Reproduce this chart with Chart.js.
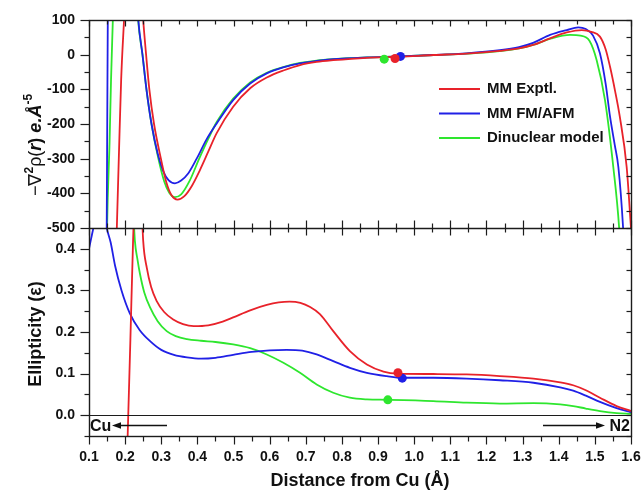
<!DOCTYPE html>
<html>
<head>
<meta charset="utf-8">
<script src="https://cdn.jsdelivr.net/npm/chart.js@4.4.1/dist/chart.umd.min.js"></script>
<style>
  html, body { margin: 0; padding: 0; background: #fff; }
  #wrap { width: 641px; height: 496px; position: relative; }
</style>
</head>
<body>
<div id="wrap"><canvas id="chart"></canvas></div>
<script>
// Series names and colours
const SERIES = ['MM Exptl.', 'MM FM/AFM', 'Dinuclear model'];
const COLORS = ['#e8222a', '#2020e6', '#2ee62e'];

// Tick labels
const X_TICKS = [0.1, 0.2, 0.3, 0.4, 0.5, 0.6, 0.7, 0.8, 0.9, 1.0, 1.1, 1.2, 1.3, 1.4, 1.5, 1.6];
const LAP_TICKS = [100, 0, -100, -200, -300, -400, -500];
const ELL_TICKS = [0.0, 0.1, 0.2, 0.3, 0.4];

// Laplacian profiles, -∇²ρ(r) (e.Å⁻⁵) against distance from Cu (Å)
const LAP_EXP_X = [0.172, 0.177, 0.183, 0.189, 0.197, 0.205, 0.222, 0.240, 0.250, 0.258, 0.267, 0.280, 0.299, 0.314, 0.328, 0.345, 0.364, 0.385, 0.407, 0.430, 0.453, 0.499, 0.546, 0.592, 0.640, 0.684, 0.730, 0.776, 0.869, 0.961, 1.053, 1.145, 1.237, 1.290, 1.329, 1.376, 1.422, 1.464, 1.490, 1.514, 1.530, 1.542, 1.556, 1.569, 1.588, 1.600];
const LAP_EXP_Y = [-700, -500, -280, -72, 100, 260, 420, 260, 100, 0, -100, -200, -300, -368, -405, -418, -408, -378, -333, -280, -227, -150, -97, -66, -45, -30, -21, -16, -9, -6, -1, 3, 11, 18, 28, 47, 64, 71, 66, 52, 15, -35, -105, -179, -324, -500];

const LAP_FM_X = [0.147, 0.149, 0.1505, 0.152, 0.156, 0.190, 0.226, 0.2365, 0.248, 0.259, 0.273, 0.290, 0.305, 0.320, 0.338, 0.355, 0.375, 0.398, 0.425, 0.453, 0.499, 0.546, 0.592, 0.640, 0.684, 0.730, 0.776, 0.869, 0.961, 1.053, 1.145, 1.237, 1.290, 1.329, 1.376, 1.422, 1.454, 1.475, 1.495, 1.514, 1.530, 1.542, 1.555, 1.565, 1.578, 1.585];
const LAP_FM_Y = [-800, -500, -200, 100, 300, 650, 300, 100, 0, -100, -200, -285, -335, -362, -371, -363, -342, -300, -245, -199, -131, -83, -54, -36, -25, -18, -13, -8, -5, -1, 4, 13, 22, 34, 57, 71, 79, 74, 55, 4, -85, -179, -260, -324, -497, -650];

const LAP_DN_X = [0.147, 0.150, 0.157, 0.161, 0.166, 0.172, 0.200, 0.226, 0.236, 0.248, 0.259, 0.273, 0.292, 0.308, 0.322, 0.338, 0.355, 0.378, 0.405, 0.430, 0.453, 0.499, 0.546, 0.592, 0.640, 0.684, 0.730, 0.776, 0.869, 0.961, 1.053, 1.145, 1.237, 1.290, 1.329, 1.380, 1.431, 1.460, 1.485, 1.505, 1.528, 1.551, 1.567, 1.575];
const LAP_DN_Y = [-750, -500, -250, -72, 100, 300, 680, 300, 100, 0, -100, -200, -300, -365, -398, -411, -403, -365, -300, -243, -195, -127, -80, -52, -35, -24, -17, -13, -8, -5, -1, 3, 10, 18, 28, 47, 57, 55, 40, -16, -131, -324, -497, -650];

// Ellipticity profiles
const ELL_EXP_X = [0.195, 0.207, 0.2145, 0.222, 0.236, 0.250, 0.260, 0.272, 0.287, 0.308, 0.333, 0.360, 0.390, 0.430, 0.470, 0.499, 0.546, 0.592, 0.625, 0.655, 0.685, 0.712, 0.739, 0.776, 0.822, 0.869, 0.915, 0.955, 1.053, 1.145, 1.237, 1.330, 1.404, 1.440, 1.475, 1.514, 1.560, 1.600];
const ELL_EXP_Y = [-0.40, -0.05, 0.18, 0.42, 0.70, 0.419, 0.354, 0.308, 0.275, 0.248, 0.230, 0.219, 0.214, 0.216, 0.225, 0.235, 0.252, 0.265, 0.271, 0.273, 0.270, 0.260, 0.243, 0.202, 0.154, 0.122, 0.105, 0.100, 0.099, 0.098, 0.094, 0.088, 0.079, 0.072, 0.060, 0.042, 0.022, 0.010];

const ELL_FM_X = [0.100, 0.106, 0.112, 0.130, 0.149, 0.160, 0.172, 0.190, 0.213, 0.240, 0.269, 0.300, 0.335, 0.371, 0.410, 0.450, 0.499, 0.550, 0.600, 0.647, 0.690, 0.730, 0.776, 0.822, 0.869, 0.924, 0.967, 1.053, 1.145, 1.237, 1.330, 1.404, 1.440, 1.475, 1.514, 1.560, 1.600];
const ELL_FM_Y = [0.400, 0.425, 0.450, 0.540, 0.450, 0.415, 0.360, 0.300, 0.245, 0.205, 0.178, 0.157, 0.145, 0.139, 0.136, 0.138, 0.145, 0.152, 0.156, 0.157, 0.155, 0.146, 0.130, 0.114, 0.102, 0.094, 0.090, 0.090, 0.088, 0.084, 0.078, 0.067, 0.059, 0.047, 0.032, 0.017, 0.007];

const ELL_DN_X = [0.150, 0.200, 0.222, 0.227, 0.234, 0.241, 0.253, 0.269, 0.290, 0.315, 0.340, 0.371, 0.410, 0.450, 0.499, 0.546, 0.592, 0.638, 0.684, 0.730, 0.776, 0.822, 0.869, 0.927, 1.053, 1.145, 1.237, 1.330, 1.404, 1.440, 1.475, 1.514, 1.560, 1.600];
const ELL_DN_Y = [1.500, 0.800, 0.500, 0.419, 0.375, 0.340, 0.295, 0.259, 0.226, 0.202, 0.190, 0.183, 0.179, 0.176, 0.170, 0.161, 0.146, 0.126, 0.102, 0.074, 0.054, 0.042, 0.038, 0.037, 0.034, 0.030, 0.028, 0.029, 0.026, 0.022, 0.016, 0.010, 0.005, 0.003];

// Bond critical points (Exptl., FM/AFM, Dinuclear)
const BCP_X_LAP = [0.947, 0.962, 0.917];
const BCP_LAP = [-11, -5, -13];
const BCP_X_ELL = [0.955, 0.967, 0.927];
const BCP_ELL = [0.102, 0.089, 0.037];

const FONT = '"Liberation Sans", Arial, Helvetica, sans-serif';
const INK = '#1c1c1c';

const pts = (xs, ys) => xs.map((x, i) => ({ x, y: ys[i] }));

function curve(i, xs, ys, axis) {
  return {
    label: SERIES[i], data: pts(xs, ys), yAxisID: axis,
    borderColor: COLORS[i], backgroundColor: COLORS[i], borderWidth: 1.8,
    pointRadius: 0, pointHoverRadius: 0, fill: false,
    cubicInterpolationMode: 'monotone', clip: 0, order: 2
  };
}
function dot(i, x, y, axis) {
  return {
    label: '', data: [{ x, y }], yAxisID: axis, showLine: false,
    pointRadius: 4.5, pointBackgroundColor: COLORS[i], pointBorderWidth: 0,
    clip: 8, order: 1
  };
}

const datasets = [
  curve(0, LAP_EXP_X, LAP_EXP_Y, 'yTop'),
  curve(1, LAP_FM_X, LAP_FM_Y, 'yTop'),
  curve(2, LAP_DN_X, LAP_DN_Y, 'yTop'),
  curve(0, ELL_EXP_X, ELL_EXP_Y, 'yBot'),
  curve(1, ELL_FM_X, ELL_FM_Y, 'yBot'),
  curve(2, ELL_DN_X, ELL_DN_Y, 'yBot')
];
for (let i = 0; i < 3; i++) {
  datasets.push(dot(i, BCP_X_LAP[i], BCP_LAP[i], 'yTop'));
  datasets.push(dot(i, BCP_X_ELL[i], BCP_ELL[i], 'yBot'));
}

function seg(ctx, x1, y1, x2, y2) {
  ctx.beginPath(); ctx.moveTo(x1, y1); ctx.lineTo(x2, y2); ctx.stroke();
}
function withMinors(majors) {
  const out = [];
  majors.forEach((v, i) => {
    out.push([v, true]);
    if (i < majors.length - 1) out.push([(v + majors[i + 1]) / 2, false]);
  });
  return out;
}
const snap = p => Math.round(p) + 0.5;

// Frame, panel divider, zero line and all tick marks
const framePlugin = {
  id: 'panelFrame',
  afterDatasetsDraw(chart) {
    const { ctx, chartArea: a, scales: { x, yTop, yBot } } = chart;
    const mid = snap(yTop.bottom);
    const L = snap(a.left), R = snap(a.right), T = snap(a.top), B = snap(a.bottom);
    ctx.save();
    ctx.strokeStyle = INK;
    ctx.lineWidth = 1.4;
    ctx.strokeRect(L, T, R - L, B - T);
    seg(ctx, L, mid, R, mid);
    ctx.lineWidth = 1.2;
    const z = snap(yBot.getPixelForValue(0));
    seg(ctx, L, z, R, z);

    withMinors(X_TICKS).forEach(([v, maj]) => {
      const p = snap(x.getPixelForValue(v));
      seg(ctx, p, T, p, T + (maj ? 6 : 4));
      seg(ctx, p, mid - (maj ? 8 : 5), p, mid + (maj ? 7 : 4));
      seg(ctx, p, B, p, B + (maj ? 8 : 5));
    });

    const topTicks = withMinors(LAP_TICKS);
    const botTicks = withMinors(ELL_TICKS);
    const step = ELL_TICKS[1] - ELL_TICKS[0];
    botTicks.push([ELL_TICKS[0] - step / 2, false]);
    [[yTop, topTicks], [yBot, botTicks]].forEach(([s, list]) => {
      list.forEach(([v, maj]) => {
        const p = snap(s.getPixelForValue(v));
        seg(ctx, L - (maj ? 9 : 5), p, L, p);
        seg(ctx, R - 5, p, R, p);
      });
    });
    ctx.restore();
  },
  afterDraw(chart) {
    const { ctx, chartArea: a, scales: { yTop, yBot } } = chart;
    ctx.save();
    ctx.fillStyle = '#111';

    // Upper y title with mixed styles
    const big = 18, small = 12;
    const parts = [
      { t: '\u2212\u2207', f: `${big}px ${FONT}`, up: 0 },
      { t: '2', f: `bold ${small}px ${FONT}`, up: 8 },
      { t: '\u03C1(', f: `${big}px ${FONT}`, up: 0 },
      { t: 'r', f: `italic bold ${big}px ${FONT}`, up: 0 },
      { t: ') ', f: `bold ${big}px ${FONT}`, up: 0 },
      { t: 'e.\u00C5', f: `italic bold ${big}px ${FONT}`, up: 0 },
      { t: '-5', f: `bold ${small}px ${FONT}`, up: 9 }
    ];
    let total = 0;
    parts.forEach(p => { ctx.font = p.f; p.w = ctx.measureText(p.t).width; total += p.w; });
    ctx.save();
    ctx.translate(41, (yTop.top + yTop.bottom) / 2 + 21);
    ctx.rotate(-Math.PI / 2);
    ctx.textBaseline = 'alphabetic';
    let cx = -total / 2;
    parts.forEach(p => { ctx.font = p.f; ctx.fillText(p.t, cx, -p.up); cx += p.w; });
    ctx.restore();

    // Lower y title
    ctx.save();
    ctx.translate(41, (yBot.top + yBot.bottom) / 2 + 2);
    ctx.rotate(-Math.PI / 2);
    ctx.font = `bold ${big}px ${FONT}`;
    ctx.textAlign = 'center';
    ctx.textBaseline = 'alphabetic';
    ctx.fillText('Ellipticity (\u03B5)', 0, 0);
    ctx.restore();

    // x title
    ctx.font = `bold ${big}px ${FONT}`;
    ctx.textAlign = 'center';
    ctx.textBaseline = 'alphabetic';
    ctx.fillText('Distance from Cu (\u00C5)', (a.left + a.right) / 2, 486);

    // Legend
    ctx.font = `bold 15px ${FONT}`;
    ctx.textAlign = 'left';
    ctx.textBaseline = 'middle';
    SERIES.forEach((name, i) => {
      const y = a.top + 69 + i * 24.5;
      ctx.strokeStyle = COLORS[i];
      ctx.lineWidth = 1.8;
      seg(ctx, a.left + 350, y, a.left + 391, y);
      ctx.fillText(name, a.left + 398, y);
    });

    // Direction markers along the bond
    const yA = snap(yBot.getPixelForValue(0)) + 10;
    ctx.strokeStyle = '#111';
    ctx.lineWidth = 1.3;
    const arrow = (x1, x2) => {
      const dir = Math.sign(x2 - x1);
      seg(ctx, x1, yA, x2 - dir * 6, yA);
      ctx.beginPath();
      ctx.moveTo(x2, yA);
      ctx.lineTo(x2 - dir * 9, yA - 3.2);
      ctx.lineTo(x2 - dir * 9, yA + 3.2);
      ctx.closePath();
      ctx.fill();
    };
    ctx.font = `bold 16px ${FONT}`;
    ctx.textAlign = 'left';
    ctx.fillText('Cu', a.left + 1, yA + 1);
    arrow(a.left + 78, a.left + 23);
    ctx.textAlign = 'right';
    ctx.fillText('N2', a.right - 1, yA + 1);
    arrow(a.right - 88, a.right - 26);
    ctx.restore();
  }
};

const tickFont = { family: FONT, size: 14, weight: 'bold' };

new Chart(document.getElementById('chart'), {
  type: 'line',
  data: { datasets },
  options: {
    responsive: true,
    maintainAspectRatio: false,
    animation: false,
    events: [],
    layout: { padding: { left: 0, right: 10, top: 20, bottom: 0 } },
    plugins: { legend: { display: false }, tooltip: { enabled: false }, title: { display: false } },
    scales: {
      x: {
        type: 'linear', position: 'bottom', min: 0.1, max: 1.6,
        afterBuildTicks: s => { s.ticks = X_TICKS.map(v => ({ value: v })); },
        ticks: { callback: v => v.toFixed(1), font: tickFont, color: '#111', padding: 13, maxRotation: 0, autoSkip: false },
        grid: { display: false, drawTicks: false },
        border: { display: false },
        afterFit: s => { s.height = 60; s.paddingLeft = 0; s.paddingRight = 0; }
      },
      yBot: {
        type: 'linear', position: 'left', stack: 'panels', stackWeight: 1,
        min: -0.05, max: 0.45,
        afterBuildTicks: s => { s.ticks = ELL_TICKS.map(v => ({ value: v })); },
        ticks: { callback: v => v.toFixed(1), font: tickFont, color: '#111', padding: 14 },
        grid: { display: false, drawTicks: false },
        border: { display: false },
        afterFit: s => { s.width = 89; s.paddingTop = 0; s.paddingBottom = 0; }
      },
      yTop: {
        type: 'linear', position: 'left', stack: 'panels', stackWeight: 1,
        min: -500, max: 100,
        afterBuildTicks: s => { s.ticks = LAP_TICKS.map(v => ({ value: v })); },
        ticks: { callback: v => String(v), font: tickFont, color: '#111', padding: 14 },
        grid: { display: false, drawTicks: false },
        border: { display: false },
        afterFit: s => { s.width = 89; s.paddingTop = 0; s.paddingBottom = 0; }
      }
    }
  },
  plugins: [framePlugin]
});
</script>
</body>
</html>
